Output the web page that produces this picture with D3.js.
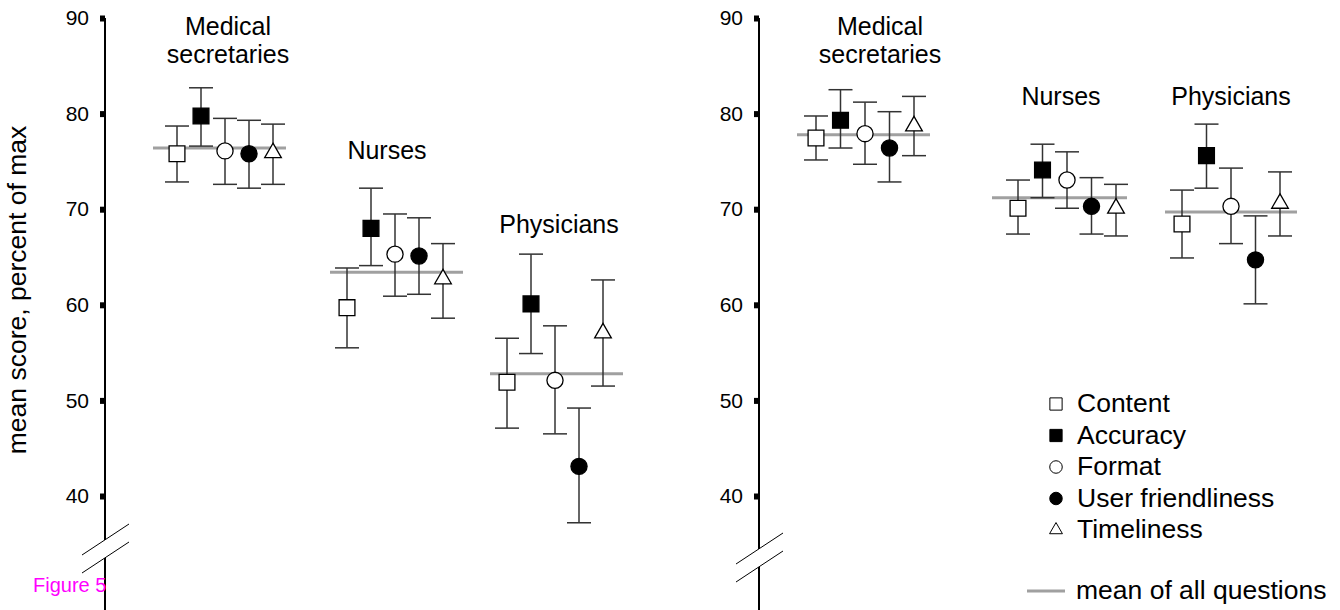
<!DOCTYPE html>
<html>
<head>
<meta charset="utf-8">
<script src="https://cdn.jsdelivr.net/npm/d3@7"></script>
<style>
  html, body { margin: 0; padding: 0; background: #fff; }
  svg { display: block; }
  text { font-family: "Liberation Sans", Arial, Helvetica, sans-serif; fill: #000; }
</style>
</head>
<body>
<svg id="chart" width="1340" height="610"></svg>
<script>
// ---------- DATA ----------
const groups = ["Medical secretaries", "Nurses", "Physicians"];
const series = ["Content", "Accuracy", "Format", "User friendliness", "Timeliness"];
const yTicks = [40, 50, 60, 70, 80, 90];

// Left panel: mean, lower, upper per group (rows) per series (columns)
const leftMean  = [[75.8, 79.75, 76.1, 75.8, 75.9],
                   [59.7, 68.0, 65.3, 65.1, 62.7],
                   [51.9, 60.1, 52.1, 43.1, 57.05]];
const leftLow   = [[72.85, 76.6, 72.6, 72.2, 72.6],
                   [55.5, 64.1, 60.9, 61.1, 58.6],
                   [47.1, 54.9, 46.5, 37.2, 51.5]];
const leftHigh  = [[78.7, 82.7, 79.5, 79.3, 78.9],
                   [63.85, 72.2, 69.5, 69.1, 66.4],
                   [56.5, 65.3, 57.8, 49.2, 62.6]];
const leftAll   = [76.4, 63.4, 52.8];

// Right panel
const rightMean = [[77.45, 79.3, 77.9, 76.4, 78.7],
                   [70.1, 74.1, 73.05, 70.3, 70.1],
                   [68.45, 75.6, 70.3, 64.7, 70.6]];
const rightLow  = [[75.15, 76.4, 74.7, 72.85, 75.6],
                   [67.4, 71.2, 70.1, 67.4, 67.2],
                   [64.9, 72.2, 66.4, 60.1, 67.2]];
const rightHigh = [[79.75, 82.5, 81.2, 80.2, 81.8],
                   [73.05, 76.8, 76.0, 73.3, 72.6],
                   [72.0, 78.9, 74.3, 69.3, 73.9]];
const rightAll  = [77.8, 71.2, 69.7];

const yLabel = "mean score, percent of max";
const meanLabel = "mean of all questions";
const figLabel = "Figure 5";

// ---------- LAYOUT ----------
const svg = d3.select("#chart");
const LABEL_FONT = 25;
const LEGEND_FONT = 26.5;
const y = d3.scaleLinear().domain([40, 90]).range([496, 18]);

const panels = [
  { axisX: 105, centers: [225, 395, 555], spacing: 24, mean: leftMean, low: leftLow, high: leftHigh, all: leftAll,
    meanExt: [[-72, 61], [-65, 68], [-65, 68]],
    labels: [{x: 228, y: [35, 63], lines: ["Medical", "secretaries"]},
             {x: 387, y: [159], lines: ["Nurses"]},
             {x: 559, y: [233], lines: ["Physicians"]}],
    brk: 548 },
  { axisX: 759, centers: [865, 1067, 1231], spacing: 24.5, mean: rightMean, low: rightLow, high: rightHigh, all: rightAll,
    meanExt: [[-68, 65], [-75, 60], [-66, 66]],
    labels: [{x: 880, y: [35, 63], lines: ["Medical", "secretaries"]},
             {x: 1061, y: [105], lines: ["Nurses"]},
             {x: 1231, y: [105], lines: ["Physicians"]}],
    brk: 557 }
];

const shapeOf = {
  "Content":           { type: d3.symbolSquare,   fill: "#fff" },
  "Accuracy":          { type: d3.symbolSquare,   fill: "#000" },
  "Format":            { type: d3.symbolCircle,   fill: "#fff" },
  "User friendliness": { type: d3.symbolCircle,   fill: "#000" },
  "Timeliness":        { type: d3.symbolTriangle, fill: "#fff" }
};
const sizeOf = { square: 250, circle: 205, triangle: 120 };
function symSize(t, scale) {
  const s = t === d3.symbolSquare ? sizeOf.square : t === d3.symbolCircle ? sizeOf.circle : sizeOf.triangle;
  return s * scale;
}

panels.forEach(p => {
  const g = svg.append("g");
  const x = d3.scaleOrdinal().domain(groups).range(p.centers);
  const off = d3.scalePoint().domain(series).range([-2 * p.spacing, 2 * p.spacing]);

  // axis line (with break)
  g.append("line").attr("x1", p.axisX).attr("x2", p.axisX).attr("y1", y(90)).attr("y2", p.brk - 8)
    .attr("stroke", "#000").attr("stroke-width", 2);
  g.append("line").attr("x1", p.axisX).attr("x2", p.axisX).attr("y1", p.brk + 10).attr("y2", 610)
    .attr("stroke", "#000").attr("stroke-width", 2);
  // break marks
  [0, 18].forEach(d => {
    g.append("line")
      .attr("x1", p.axisX - 23).attr("y1", p.brk + 7 + d)
      .attr("x2", p.axisX + 24).attr("y2", p.brk - 24 + d)
      .attr("stroke", "#000").attr("stroke-width", 1);
  });

  // ticks
  const axis = d3.axisLeft(y).tickValues(yTicks).tickSize(0).tickPadding(16).tickFormat(d3.format("d"));
  const ag = g.append("g").attr("transform", `translate(${p.axisX},0)`).call(axis);
  ag.select(".domain").remove();
  ag.selectAll(".tick text").attr("font-size", 21).attr("fill", "#000")
    .attr("font-family", '"Liberation Sans", Arial, sans-serif');
  ag.selectAll(".tick").append("rect").attr("x", -5).attr("y", -3).attr("width", 5).attr("height", 6).attr("fill", "#000");

  groups.forEach((grp, gi) => {
    const cx = x(grp);
    // mean line
    g.append("line")
      .attr("x1", cx + p.meanExt[gi][0]).attr("x2", cx + p.meanExt[gi][1])
      .attr("y1", y(p.all[gi])).attr("y2", y(p.all[gi]))
      .attr("stroke", "#a0a0a0").attr("stroke-width", 3);

    const rows = series.map((s, si) => ({ s, m: p.mean[gi][si], lo: p.low[gi][si], hi: p.high[gi][si], px: cx + off(s) }));
    const eb = g.append("g").attr("stroke", "#333").attr("stroke-width", 1.5);
    rows.forEach(r => {
      eb.append("line").attr("x1", r.px).attr("x2", r.px).attr("y1", y(r.hi)).attr("y2", y(r.lo));
      eb.append("line").attr("x1", r.px - 12).attr("x2", r.px + 12).attr("y1", y(r.hi)).attr("y2", y(r.hi));
      eb.append("line").attr("x1", r.px - 12).attr("x2", r.px + 12).attr("y1", y(r.lo)).attr("y2", y(r.lo));
    });
    rows.forEach(r => {
      const sh = shapeOf[r.s];
      g.append("path")
        .attr("d", d3.symbol().type(sh.type).size(symSize(sh.type, 1))())
        .attr("transform", `translate(${r.px},${y(r.m)})`)
        .attr("fill", sh.fill).attr("stroke", "#000").attr("stroke-width", 1.3);
    });

    const lab = p.labels[gi];
    lab.lines.forEach((t, li) => {
      g.append("text").attr("x", lab.x).attr("y", lab.y[li]).attr("text-anchor", "middle")
        .attr("font-size", LABEL_FONT).text(t);
    });
  });
});

// y-axis title
svg.append("text")
  .attr("transform", "translate(26,290) rotate(-90)")
  .attr("text-anchor", "middle").attr("font-size", 26.5).text(yLabel);

// Legend
const leg = svg.append("g");
const legY = d3.scalePoint().domain(series).range([412, 538]);
series.forEach(s => {
  const sh = shapeOf[s];
  const by = legY(s);
  leg.append("path")
    .attr("d", d3.symbol().type(sh.type).size(symSize(sh.type, 0.6))())
    .attr("transform", `translate(1056,${by - 8})`)
    .attr("fill", sh.fill).attr("stroke", "#000").attr("stroke-width", 1);
  leg.append("text").attr("x", 1077).attr("y", by).attr("font-size", LEGEND_FONT).text(s);
});
leg.append("line").attr("x1", 1027).attr("x2", 1065).attr("y1", 591).attr("y2", 591)
  .attr("stroke", "#a0a0a0").attr("stroke-width", 3);
leg.append("text").attr("x", 1076).attr("y", 599).attr("font-size", LEGEND_FONT).text(meanLabel);

// Figure label
svg.append("text").attr("x", 33).attr("y", 592).attr("font-size", 20)
  .style("fill", "#ff00ff").text(figLabel);
</script>
</body>
</html>
